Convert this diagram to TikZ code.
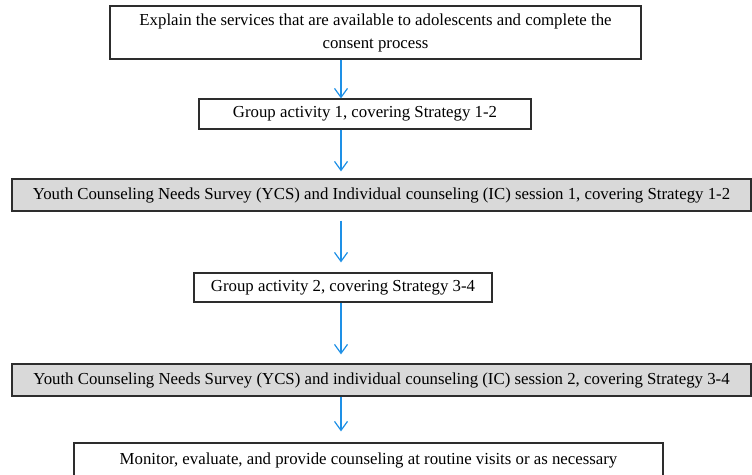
\documentclass[tikz,border=0pt]{standalone}
\usepackage{fontspec}
\setmainfont{Liberation Serif}
\usetikzlibrary{arrows.meta}
\definecolor{arrowblue}{RGB}{30,144,230}
\definecolor{boxgrey}{RGB}{217,217,217}
\definecolor{edgegrey}{RGB}{45,45,45}
\tikzset{
  stepbox/.style={draw=edgegrey, line width=1.2pt, fill=white, inner sep=0pt, align=center,
    font=\fontsize{16.8}{23}\selectfont},
  greybox/.style={stepbox, fill=boxgrey},
  flowarrow/.style={draw=arrowblue, line width=1.2pt, -{Straight Barb[length=9pt,width=13pt]}}
}
\begin{document}
\begin{tikzpicture}[x=1pt,y=-1pt]
\useasboundingbox (0,0) rectangle (752,474);
\coordinate (ax) at (341,0);
\node[stepbox, minimum width=531pt, minimum height=53pt] (b1) at (375.5,32.5)
  {Explain the services that are available to adolescents and complete the\\consent process};
\node[stepbox, minimum width=332pt, minimum height=30pt] (b2) at (365,114)
  {Group activity 1, covering Strategy 1-2};
\node[greybox, minimum width=739pt, minimum height=32pt] (b3) at (381.5,195)
  {Youth Counseling Needs Survey (YCS) and Individual counseling (IC) session 1, covering Strategy 1-2};
\node[stepbox, minimum width=298pt, minimum height=29pt] (b4) at (343,287.5)
  {Group activity 2, covering Strategy 3-4};
\node[greybox, minimum width=739pt, minimum height=32pt] (b5) at (381.5,380)
  {Youth Counseling Needs Survey (YCS) and individual counseling (IC) session 2, covering Strategy 3-4};
\node[stepbox, minimum width=589pt, minimum height=34pt] (b6) at (368.5,460)
  {Monitor, evaluate, and provide counseling at routine visits or as necessary};
\draw[flowarrow] (b1.south -| ax) -- (b2.north -| ax);
\draw[flowarrow, shorten >=7pt] (b2.south -| ax) -- (b3.north -| ax);
\draw[flowarrow, shorten <=9pt, shorten >=10pt] (b3.south -| ax) -- (b4.north -| ax);
\draw[flowarrow, shorten >=9pt] (b4.south -| ax) -- (b5.north -| ax);
\draw[flowarrow, shorten >=11pt] (b5.south -| ax) -- (b6.north -| ax);
\end{tikzpicture}
\end{document}
